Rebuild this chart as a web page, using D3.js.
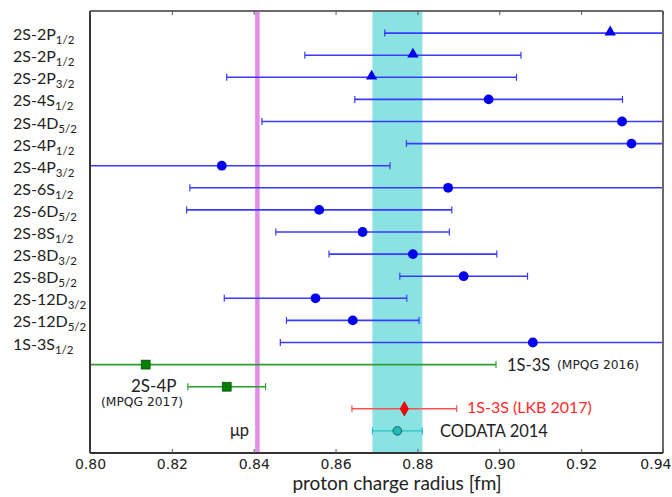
<!DOCTYPE html>
<html><head><meta charset="utf-8">
<script src="https://cdn.jsdelivr.net/npm/d3@7"></script>
<style>body{margin:0;background:#fff}svg{display:block}</style>
</head><body>
<svg id="c" width="672" height="497"></svg>
<script>
// ---- data ----
const transitions = ["2S-2P","2S-2P","2S-2P","2S-4S","2S-4D","2S-4P","2S-4P","2S-6S","2S-6D","2S-8S","2S-8D","2S-8D","2S-12D","2S-12D","1S-3S"];
const subscripts  = ["1/2","1/2","3/2","1/2","5/2","1/2","3/2","1/2","5/2","1/2","3/2","5/2","3/2","5/2","1/2"];
const radii       = [0.9271,0.8789,0.8688,0.8974,0.9300,0.9323,0.8322,0.8875,0.8560,0.8666,0.8789,0.8913,0.8551,0.8642,0.9082];
const radiiErr    = [0.0551,0.0264,0.0354,0.0327,0.0880,0.0550,0.0411,0.0631,0.0324,0.0212,0.0205,0.0156,0.0223,0.0162,0.0617];
const markerTypes = ["tri","tri","tri","dot","dot","dot","dot","dot","dot","dot","dot","dot","dot","dot","dot"];

const extraNames  = ["1S-3S (MPQG 2016)","2S-4P (MPQG 2017)","1S-3S (LKB 2017)","CODATA 2014"];
const extraValues = [0.8136,0.8334,0.8768,0.8751];
const extraErrors = [0.0856,0.0095,0.0128,0.0061];
const muonicP = 0.8409;
const xTicks = [0.80,0.82,0.84,0.86,0.88,0.90,0.92,0.94];

// ---- layout ----
const svg = d3.select("#c");
const L = 90, R = 663, T = 11, B = 453;
const x = d3.scaleLinear().domain([0.80,0.94]).range([L,R]);
const y = d3.scaleLinear().domain([-1,19]).range([T,B]);

svg.append("defs").append("clipPath").attr("id","pc")
  .append("rect").attr("x",L).attr("y",T).attr("width",R-L).attr("height",B-T);
const plot = svg.append("g").attr("clip-path","url(#pc)");

// CODATA band
plot.append("rect")
  .attr("x", x(extraValues[3]-extraErrors[3])).attr("y",T)
  .attr("width", x(extraValues[3]+extraErrors[3]) - x(extraValues[3]-extraErrors[3]))
  .attr("height", B-T).attr("fill","#8be2e2");
// muonic line
plot.append("line").attr("x1",x(muonicP)).attr("x2",x(muonicP)).attr("y1",T).attr("y2",B)
  .attr("stroke","#e08ee6").attr("stroke-width",4.5);

function errbar(v,e,yy,col,w){
  const g = plot.append("g");
  g.append("line").attr("x1",x(v-e)).attr("x2",x(v+e)).attr("y1",yy).attr("y2",yy)
    .attr("stroke",col).attr("stroke-width",w);
  [v-e,v+e].forEach(c=>g.append("line").attr("x1",x(c)).attr("x2",x(c))
    .attr("y1",yy-3.5).attr("y2",yy+3.5).attr("stroke",col).attr("stroke-width",1.2));
}

radii.forEach((v,i)=>{
  errbar(v, radiiErr[i], y(i), "#3a3aff", 1.6);
});
radii.forEach((v,i)=>{
  const yy = y(i);
  if(markerTypes[i]==="tri"){
    plot.append("path").attr("d", d3.symbol(d3.symbolTriangle, 56)())
      .attr("transform",`translate(${x(v)},${yy-1})`).attr("fill","#0000ee");
  } else {
    plot.append("circle").attr("cx",x(v)).attr("cy",yy).attr("r",4.9).attr("fill","#0000ee");
  }
});

// extras
const exCols = ["#2e9e2e","#2e9e2e","#ff5050","#22c4c4"];
extraValues.forEach((v,i)=>{
  errbar(v, extraErrors[i], y(15+i), exCols[i], i===0?1.8:1.4);
});
[0,1].forEach(i=>{
  plot.append("rect").attr("x",x(extraValues[i])-4.5).attr("y",y(15+i)-4.5)
    .attr("width",9).attr("height",9).attr("fill","#008000").attr("stroke","#004400").attr("stroke-width",0.6);
});
plot.append("path").attr("d", d3.symbol(d3.symbolDiamond, 60)())
  .attr("transform",`translate(${x(extraValues[2])},${y(17)})`).attr("fill","#ff0000").attr("stroke","#b00000").attr("stroke-width",0.6);
plot.append("circle").attr("cx",x(extraValues[3])).attr("cy",y(18)).attr("r",4.3)
  .attr("fill","#20bcbc").attr("stroke","#106060").attr("stroke-width",1);

// frame
const frame = svg.append("g");
frame.append("line").attr("x1",L).attr("x2",R).attr("y1",T).attr("y2",T).attr("stroke","#6a6a6a").attr("stroke-width",2);
frame.append("line").attr("x1",R).attr("x2",R).attr("y1",T).attr("y2",B).attr("stroke","#6a6a6a").attr("stroke-width",2);
frame.append("line").attr("x1",L).attr("x2",R).attr("y1",B).attr("y2",B).attr("stroke","#333").attr("stroke-width",2);
frame.append("line").attr("x1",L).attr("x2",L).attr("y1",T).attr("y2",B).attr("stroke","#333").attr("stroke-width",2);

// axes ticks (inward)
const axB = svg.append("g").attr("transform",`translate(0,${B})`)
  .call(d3.axisBottom(x).tickValues(xTicks).tickSize(-4).tickPadding(6).tickFormat(d3.format(".2f")));
axB.select(".domain").remove();
axB.selectAll("line").attr("stroke","#555");
axB.selectAll("text").attr("font-family","DejaVu Sans").attr("font-size",14).attr("fill","#222");
axB.selectAll(".tick").filter(d=>d===0.94).select("text").attr("text-anchor","end").attr("x",8);
const axT = svg.append("g").attr("transform",`translate(0,${T})`)
  .call(d3.axisTop(x).tickValues(xTicks).tickSize(-4).tickFormat(""));
axT.select(".domain").remove();
axT.selectAll("line").attr("stroke","#555");

// y labels
const yl = svg.append("g").attr("font-family","Lato").attr("fill","#222");
transitions.forEach((t,i)=>{
  const tx = yl.append("text").attr("x",13).attr("y",y(i)+7).attr("font-size",16).attr("fill","#222");
  tx.append("tspan").text(t);
  tx.append("tspan").attr("dy",4).attr("font-size",11.5).text(subscripts[i]);
});

// annotations
svg.append("text").attr("x",507).attr("y",370.5).attr("font-family","Lato").attr("font-size",16.5).attr("fill","#222").text("1S-3S");
svg.append("text").attr("x",557).attr("y",369).attr("font-family","DejaVu Sans").attr("font-size",12.3).attr("fill","#222").text("(MPQG 2016)");
svg.append("text").attr("x",131).attr("y",391.5).attr("font-family","Lato").attr("font-size",17).attr("fill","#222").text("2S-4P");
svg.append("text").attr("x",101).attr("y",405.5).attr("font-family","DejaVu Sans").attr("font-size",12.3).attr("fill","#222").text("(MPQG 2017)");
svg.append("text").attr("x",467).attr("y",412.5).attr("font-family","Lato").attr("font-size",16).attr("fill","#ff2a2a").text("1S-3S (LKB 2017)");
svg.append("text").attr("x",440).attr("y",437).attr("font-family","Lato").attr("font-size",16.5).attr("fill","#222").text("CODATA 2014");
svg.append("text").attr("x",230).attr("y",436).attr("font-family","Lato").attr("font-size",16.5).attr("fill","#222").text("μp");

svg.append("text").attr("x",397).attr("y",490).attr("text-anchor","middle")
  .attr("font-family","Lato").attr("font-size",19).attr("fill","#222").text("proton charge radius [fm]");
</script>
</body></html>
